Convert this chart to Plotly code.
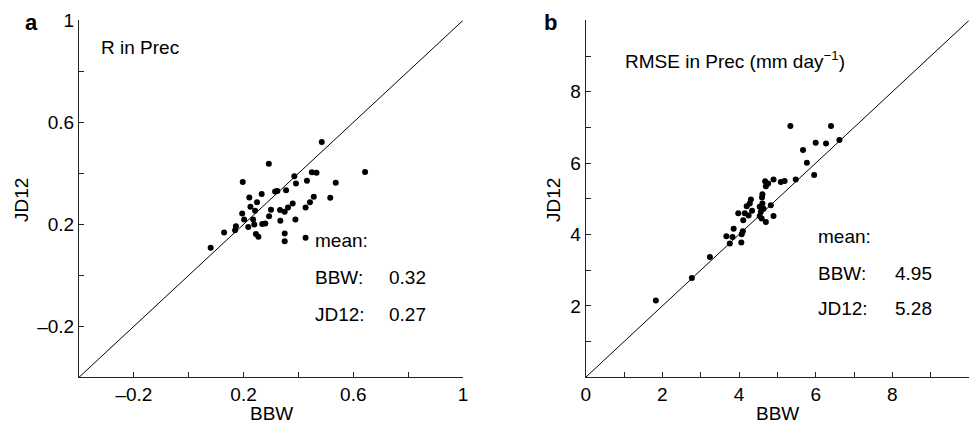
import plotly.graph_objects as go

# ---------------- data ----------------
a_bbw = [0.485, 0.292, 0.643, 0.197, 0.385, 0.449, 0.466, 0.391, 0.431, 0.536,
         0.355, 0.315, 0.323, 0.266, 0.221, 0.249, 0.456, 0.516, 0.225, 0.242,
         0.300, 0.379, 0.362, 0.333, 0.350, 0.442, 0.426, 0.195, 0.293, 0.202,
         0.235, 0.334, 0.389, 0.172, 0.217, 0.268, 0.279, 0.239, 0.129, 0.169,
         0.245, 0.254, 0.350, 0.350, 0.426, 0.080]
a_jd12 = [0.523, 0.438, 0.405, 0.366, 0.389, 0.404, 0.402, 0.360, 0.371, 0.363,
          0.334, 0.329, 0.331, 0.319, 0.305, 0.287, 0.308, 0.304, 0.269, 0.253,
          0.257, 0.282, 0.266, 0.256, 0.249, 0.287, 0.266, 0.243, 0.232, 0.219,
          0.219, 0.214, 0.219, 0.193, 0.190, 0.201, 0.203, 0.199, 0.168, 0.177,
          0.162, 0.151, 0.164, 0.134, 0.147, 0.108]

b_bbw = [5.34, 6.40, 6.00, 6.27, 6.62, 5.67, 5.77, 5.96, 5.48, 5.09,
         5.19, 4.90, 4.68, 4.76, 4.70, 4.61, 4.60, 4.31, 4.28, 4.61,
         4.83, 4.20, 4.54, 4.64, 4.34, 3.98, 4.15, 4.57, 4.25, 4.54,
         4.90, 4.11, 4.59, 4.70, 3.86, 4.10, 4.07, 3.67, 3.83, 3.76,
         4.06, 1.83, 2.77, 3.24]
b_jd12 = [7.04, 7.04, 6.57, 6.55, 6.65, 6.37, 6.01, 5.67, 5.54, 5.47,
          5.50, 5.54, 5.49, 5.43, 5.35, 5.13, 5.04, 4.98, 4.87, 4.87,
          4.82, 4.79, 4.78, 4.72, 4.67, 4.60, 4.60, 4.64, 4.53, 4.52,
          4.52, 4.40, 4.45, 4.35, 4.16, 4.09, 4.01, 3.95, 3.93, 3.75,
          3.78, 2.15, 2.78, 3.37]

a_range = [-0.4, 1.0]
a_major = [-0.2, 0.2, 0.6, 1.0]
a_labels = ["–0.2", "0.2", "0.6", "1"]
a_minor = [-0.4, 0.0, 0.4, 0.8]

b_range = [0, 10]
b_x_major = [0, 2, 4, 6, 8]
b_x_labels = ["0", "2", "4", "6", "8"]
b_y_major = [2, 4, 6, 8]
b_y_labels = ["2", "4", "6", "8"]
b_minor = [1, 3, 5, 7, 9, 10]

a_title = "R in Prec"
b_title = "RMSE in Prec (mm day<sup>−1</sup>)"
a_means = ["0.32", "0.27"]
b_means = ["4.95", "5.28"]

FONT = "Liberation Sans, Arial, Helvetica, sans-serif"
FS = 19
W, H = 974, 427

fig = go.Figure()

# 1:1 lines
fig.add_trace(go.Scatter(x=a_range, y=a_range, mode="lines",
                         line=dict(color="black", width=1), xaxis="x", yaxis="y",
                         showlegend=False, hoverinfo="skip"))
fig.add_trace(go.Scatter(x=b_range, y=b_range, mode="lines",
                         line=dict(color="black", width=1), xaxis="x2", yaxis="y2",
                         showlegend=False, hoverinfo="skip"))
# points
fig.add_trace(go.Scatter(x=a_bbw, y=a_jd12, mode="markers",
                         marker=dict(color="black", size=6), xaxis="x", yaxis="y",
                         showlegend=False))
fig.add_trace(go.Scatter(x=b_bbw, y=b_jd12, mode="markers",
                         marker=dict(color="black", size=6), xaxis="x2", yaxis="y2",
                         showlegend=False))


def px_x(p):
    return p / W


def px_y(p):
    return 1 - p / H


def axis(domain, rng, major, labels, minor, anchor):
    return dict(domain=domain, range=rng, anchor=anchor,
                tickmode="array", tickvals=major, ticktext=labels,
                minor=dict(tickmode="array", tickvals=minor, ticks="inside",
                           ticklen=5, tickcolor="#222", showgrid=False),
                showline=True, linecolor="#222", linewidth=1, ticks="inside",
                ticklen=5, tickcolor="#222", showgrid=False, zeroline=False,
                tickfont=dict(family=FONT, size=FS, color="black"),
                mirror=False, automargin=False)


yd = [px_y(377.3), px_y(20.4)]
fig.update_layout(
    width=W, height=H, margin=dict(l=0, r=0, t=0, b=0, autoexpand=False),
    paper_bgcolor="white", plot_bgcolor="white",
    font=dict(family=FONT, size=FS, color="black"),
    xaxis=axis([px_x(79), px_x(463)], a_range, a_major, a_labels, a_minor, "y"),
    yaxis=axis(yd, a_range, a_major, a_labels, a_minor, "x"),
    xaxis2=axis([px_x(585.7), px_x(969)], b_range, b_x_major, b_x_labels, b_minor, "y2"),
    yaxis2=axis(yd, b_range, b_y_major, b_y_labels, b_minor, "x2"),
)


def ann(text, x, y, size=FS, xanchor="left", bold=False, angle=0):
    fig.add_annotation(text=("<b>%s</b>" % text) if bold else text,
                       x=px_x(x), y=px_y(y), xref="paper", yref="paper",
                       xanchor=xanchor, yanchor="middle", showarrow=False,
                       textangle=angle, font=dict(family=FONT, size=size, color="black"))


# panel labels
ann("a", 23, 22, size=22, bold=True)
ann("b", 542, 22, size=22, bold=True)
# titles inside
ann(a_title, 99, 47)
ann(b_title, 623, 60)
# axis titles
ann("BBW", 271, 413, xanchor="center")
ann("BBW", 777, 413, xanchor="center")
ann("JD12", 21, 200, xanchor="center", angle=-90)
ann("JD12", 553, 200, xanchor="center", angle=-90)
# mean boxes
ann("mean:", 313, 241)
ann("BBW:", 313, 277)
ann(a_means[0], 387, 277)
ann("JD12:", 313, 314)
ann(a_means[1], 387, 314)

ann("mean:", 816, 237)
ann("BBW:", 816, 273)
ann(b_means[0], 893, 273)
ann("JD12:", 816, 308)
ann(b_means[1], 893, 308)

fig.write_html("out.html", config={"displayModeBar": False},
               post_script="document.body.style.margin='0';document.body.style.padding='0';")
